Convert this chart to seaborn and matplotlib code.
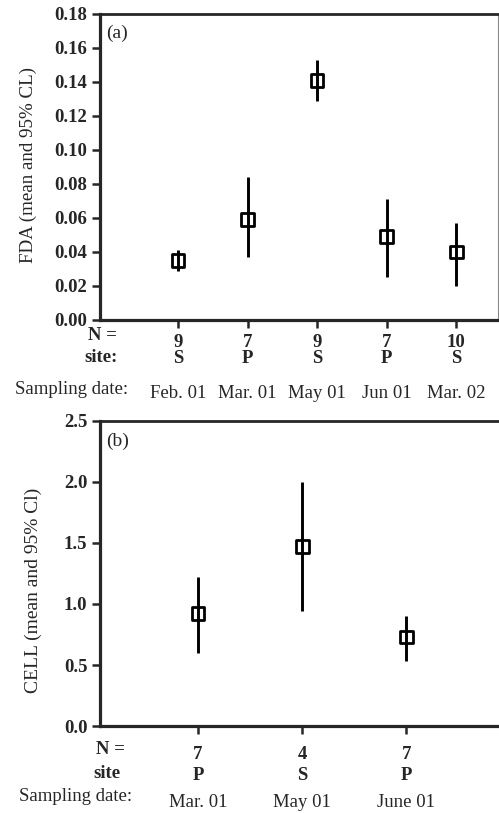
import numpy as np
import pandas as pd
import seaborn as sns
import matplotlib.pyplot as plt
from matplotlib import transforms

# panel (a): FDA
fda_dates = ['Feb. 01', 'Mar. 01', 'May 01', 'Jun 01', 'Mar. 02']
fda_n = ['9', '7', '9', '7', '10']
fda_site = ['S', 'P', 'S', 'P', 'S']
fda_mean = [0.035, 0.059, 0.141, 0.049, 0.040]
fda_lo = [0.029, 0.037, 0.129, 0.025, 0.020]
fda_hi = [0.041, 0.084, 0.153, 0.071, 0.057]
fda_yticks = [0.00, 0.02, 0.04, 0.06, 0.08, 0.10, 0.12, 0.14, 0.16, 0.18]

# panel (b): CELL
cell_dates = ['Mar. 01', 'May 01', 'June 01']
cell_n = ['7', '4', '7']
cell_site = ['P', 'S', 'P']
cell_mean = [0.92, 1.47, 0.73]
cell_lo = [0.60, 0.94, 0.535]
cell_hi = [1.22, 2.00, 0.90]
cell_yticks = [0.0, 0.5, 1.0, 1.5, 2.0, 2.5]

sns.set_style('ticks')
plt.rcParams['font.family'] = ['Liberation Serif', 'DejaVu Serif']

fig = plt.figure(figsize=(4.99, 8.13), dpi=100)
ax1 = fig.add_axes([0.2004, 0.6064, 0.7976, 0.3764])
ax2 = fig.add_axes([0.2004, 0.107, 0.7976, 0.3752])


def panel(ax, mean, lo, hi, n, site, dates, yticks, fmt, ylabel, tag,
          xlim, rows_y, lab_x, lab_y, ylab_xy, tag_xy, ylab_size):
    df = pd.DataFrame({'pos': np.arange(len(mean)), 'mean': mean,
                       'lo': lo, 'hi': hi})
    ax.vlines(df['pos'], df['lo'], df['hi'], color='black', lw=2.1, zorder=2)
    sns.scatterplot(data=df, x='pos', y='mean', marker='s', s=85,
                    facecolor='none', edgecolor='black', linewidth=2.0,
                    ax=ax, zorder=3)
    ax.set_xlim(*xlim)
    ax.set_ylim(yticks[0], yticks[-1])
    ax.set_yticks(yticks)
    ax.set_yticklabels([fmt.format(v) for v in yticks], fontsize=13.5,
                       fontweight='bold')
    ax.set_xticks(df['pos'])
    ax.tick_params(axis='x', labelbottom=False, length=6, width=1.8,
                   direction='out')
    ax.tick_params(axis='y', length=6, width=1.8, direction='out', pad=3)
    ax.set_xlabel('')
    ax.set_ylabel(ylabel, fontsize=ylab_size)
    ax.yaxis.set_label_coords(*ylab_xy)
    for side in ['left', 'bottom']:
        ax.spines[side].set_linewidth(2.3)
    ax.spines['top'].set_linewidth(2.0)
    ax.spines['right'].set_linewidth(0.8)
    ax.spines['right'].set_color('#888888')
    ax.text(tag_xy[0], tag_xy[1], tag, transform=ax.transAxes, fontsize=14,
            ha='center', va='center')

    trans = transforms.blended_transform_factory(ax.transData, fig.transFigure)
    for i in range(len(mean)):
        ax.text(i, rows_y[0], n[i], transform=trans, ha='center', va='center',
                fontsize=13.5, fontweight='bold')
        ax.text(i, rows_y[1], site[i], transform=trans, ha='center',
                va='center', fontsize=13.5, fontweight='bold')
        ax.text(i, rows_y[2], dates[i], transform=trans, ha='center',
                va='center', fontsize=13.5)
    labels = ['N =', lab_y[0], 'Sampling date:']
    weights = ['bold', 'bold', 'normal']
    for j in range(3):
        fig.text(lab_x[j], lab_y[j + 1], labels[j], ha='right', va='center',
                 fontsize=13.5, fontweight=weights[j])


panel(ax1, fda_mean, fda_lo, fda_hi, fda_n, fda_site, fda_dates, fda_yticks,
      '{:.2f}', 'FDA (mean and 95% CL)', '(a)', (-1.12, 4.6),
      (0.5788, 0.5591, 0.5155), (0.2345, 0.2365, 0.2565),
      ('site:', 0.5879, 0.5597, 0.5203), (-0.158, 0.506), (0.043, 0.938), 13.7)

panel(ax2, cell_mean, cell_lo, cell_hi, cell_n, cell_site, cell_dates,
      cell_yticks, '{:.1f}', 'CELL (mean and 95% Cl)', '(b)', (-0.94, 2.88),
      (0.0725, 0.046, 0.0128), (0.2505, 0.2405, 0.2645),
      ('site', 0.0775, 0.0492, 0.0197), (-0.146, 0.446), (0.043, 0.934), 14)
ax2.spines['right'].set_visible(False)

fig.savefig('out.png', dpi=100)
